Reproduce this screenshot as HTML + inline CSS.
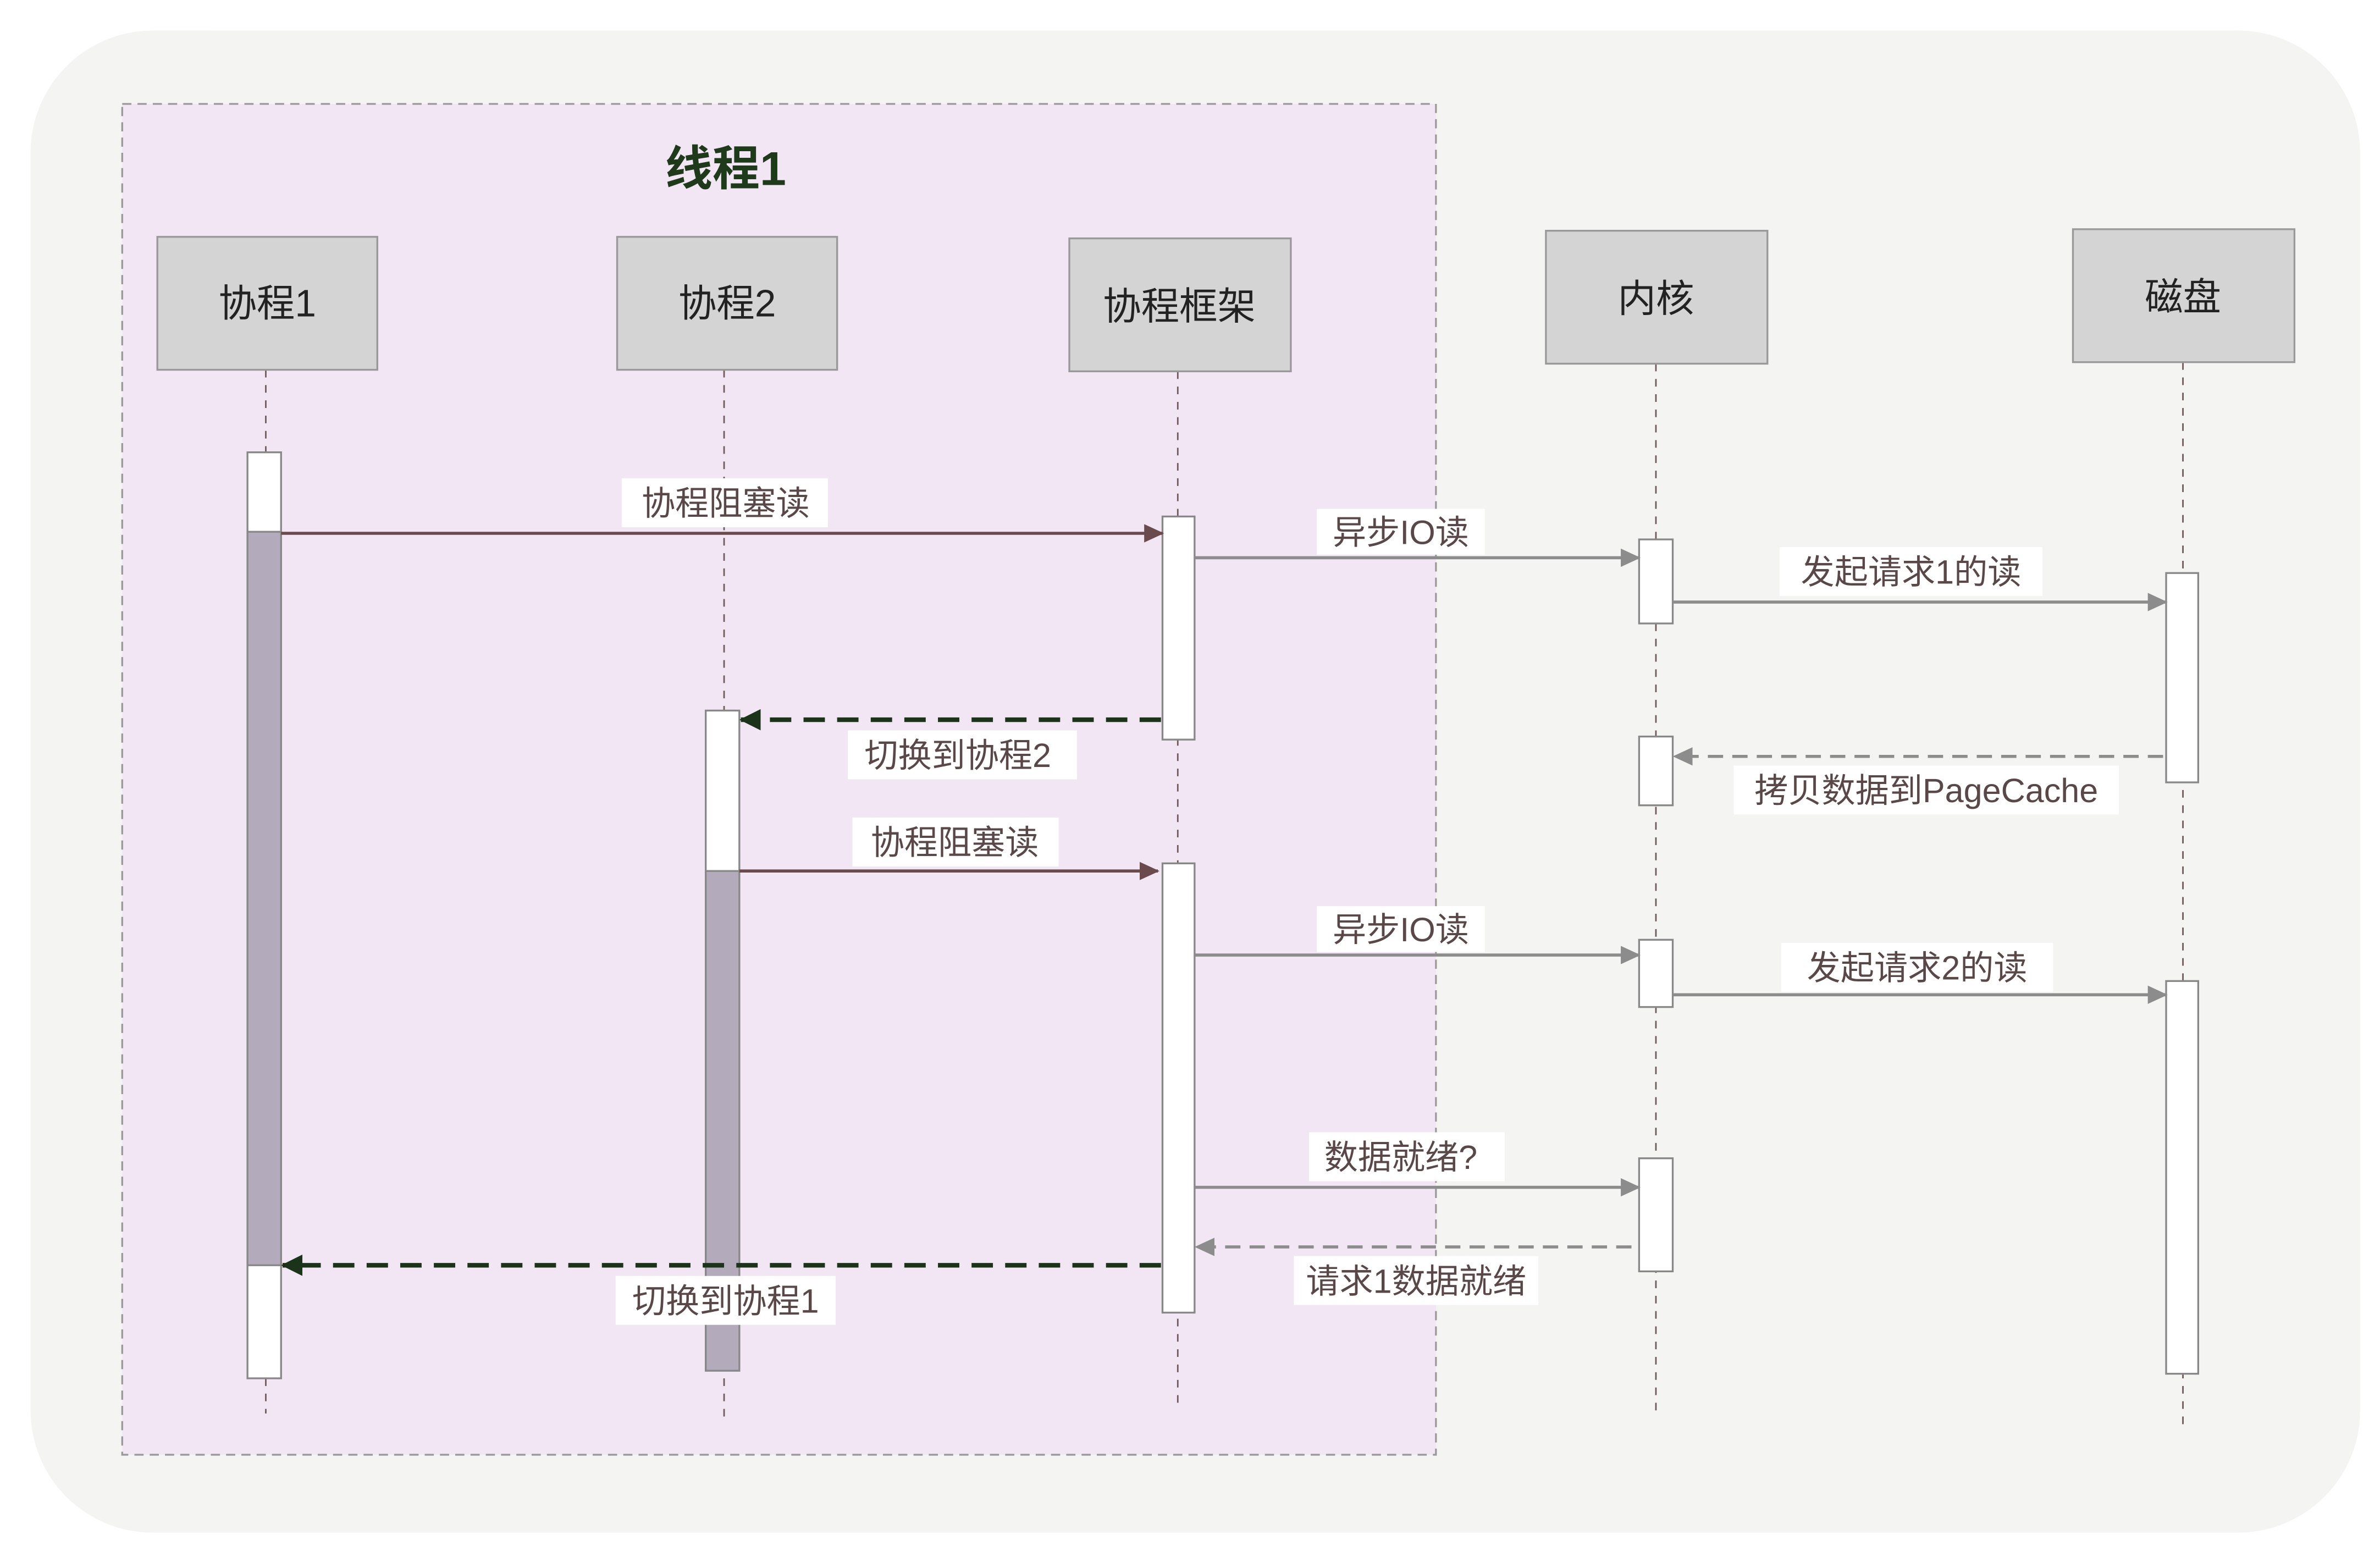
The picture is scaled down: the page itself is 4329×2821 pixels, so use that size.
<!DOCTYPE html>
<html><head><meta charset="utf-8"><style>
html,body{margin:0;padding:0;background:#fff;}
svg{display:block;}
text{font-family:"Liberation Sans","Noto Sans CJK SC",sans-serif;}
</style></head><body>
<svg width="4329" height="2821" viewBox="0 0 1558 1015" preserveAspectRatio="none" xmlns="http://www.w3.org/2000/svg">
<defs>
<marker id="ab" markerWidth="13" markerHeight="12" refX="12" refY="6" orient="auto" markerUnits="userSpaceOnUse"><path d="M0,0 L13,6 L0,12 z" fill="#6b4a4e"/></marker>
<marker id="ag" markerWidth="13" markerHeight="12" refX="12" refY="6" orient="auto" markerUnits="userSpaceOnUse"><path d="M0,0 L13,6 L0,12 z" fill="#8c8c8c"/></marker>
<marker id="ad" markerWidth="14" markerHeight="14" refX="13" refY="7" orient="auto" markerUnits="userSpaceOnUse"><path d="M0,0 L14,7 L0,14 z" fill="#1b3318"/></marker>
</defs>
<rect x="20" y="20" width="1525" height="983" rx="80" fill="#f4f4f3"/>
<rect x="80" y="68" width="860" height="884" fill="#f2e6f4" stroke="#9a9a9a" stroke-dasharray="6,4" stroke-width="1.2"/>
<text x="475" y="121" font-size="31" font-weight="bold" fill="#1e3a1a" text-anchor="middle">线程1</text>

<g stroke="#6f5a5a" stroke-dasharray="5,5" stroke-width="1">
<line x1="174" y1="242" x2="174" y2="925"/>
<line x1="474" y1="242" x2="474" y2="930"/>
<line x1="771" y1="243" x2="771" y2="920"/>
<line x1="1084" y1="238" x2="1084" y2="925"/>
<line x1="1429" y1="237" x2="1429" y2="935"/>
</g>

<g fill="#d4d4d4" stroke="#999" stroke-width="1.2">
<rect x="103" y="155" width="144" height="87"/>
<rect x="404" y="155" width="144" height="87"/>
<rect x="700" y="156" width="145" height="87"/>
<rect x="1012" y="151" width="145" height="87"/>
<rect x="1357" y="150" width="145" height="87"/>
</g>
<g font-size="25" fill="#222" text-anchor="middle">
<text x="175" y="207">协程1</text>
<text x="476" y="207">协程2</text>
<text x="772" y="209">协程框架</text>
<text x="1084" y="204">内核</text>
<text x="1429" y="203">磁盘</text>
</g>

<g stroke="#888" stroke-width="1.2">
<rect x="162" y="296" width="22" height="606" fill="#fff"/>
<rect x="162" y="348" width="22" height="480" fill="#b3abbc"/>
<rect x="462" y="465" width="22" height="432" fill="#fff"/>
<rect x="462" y="570" width="22" height="327" fill="#b3abbc"/>
<rect x="761" y="338" width="21" height="146" fill="#fff"/>
<rect x="761" y="565" width="21" height="294" fill="#fff"/>
<rect x="1073" y="353" width="22" height="55" fill="#fff"/>
<rect x="1073" y="482" width="22" height="45" fill="#fff"/>
<rect x="1073" y="615" width="22" height="44" fill="#fff"/>
<rect x="1073" y="758" width="22" height="74" fill="#fff"/>
<rect x="1418" y="375" width="21" height="137" fill="#fff"/>
<rect x="1418" y="642" width="21" height="257" fill="#fff"/>
</g>

<g stroke-width="2" fill="none">
<line x1="184" y1="349" x2="761" y2="349" stroke="#6b4a4e" marker-end="url(#ab)"/>
<line x1="484" y1="570" x2="758" y2="570" stroke="#6b4a4e" marker-end="url(#ab)"/>
<line x1="782" y1="365" x2="1073" y2="365" stroke="#8c8c8c" marker-end="url(#ag)"/>
<line x1="1095" y1="394" x2="1418" y2="394" stroke="#8c8c8c" marker-end="url(#ag)"/>
<line x1="782" y1="625" x2="1073" y2="625" stroke="#8c8c8c" marker-end="url(#ag)"/>
<line x1="1095" y1="651" x2="1418" y2="651" stroke="#8c8c8c" marker-end="url(#ag)"/>
<line x1="782" y1="777" x2="1073" y2="777" stroke="#8c8c8c" marker-end="url(#ag)"/>
<line x1="1416" y1="495" x2="1096" y2="495" stroke="#8c8c8c" stroke-dasharray="10,6" marker-end="url(#ag)"/>
<line x1="1068" y1="816" x2="783" y2="816" stroke="#8c8c8c" stroke-dasharray="10,6" marker-end="url(#ag)"/>
<line x1="760" y1="471" x2="485" y2="471" stroke="#1b3318" stroke-width="3" stroke-dasharray="14,8" marker-end="url(#ad)"/>
<line x1="760" y1="828" x2="185" y2="828" stroke="#1b3318" stroke-width="3" stroke-dasharray="14,8" marker-end="url(#ad)"/>
</g>

<g font-size="22" fill="#5a4848" text-anchor="middle">
<rect x="407" y="313" width="135" height="32" fill="#fff"/><text x="475" y="337">协程阻塞读</text>
<rect x="862" y="333" width="110" height="30" fill="#fff"/><text x="917" y="356">异步IO读</text>
<rect x="1165" y="358" width="172" height="32" fill="#fff"/><text x="1251" y="382">发起请求1的读</text>
<rect x="555" y="478" width="150" height="32" fill="#fff"/><text x="627" y="502">切换到协程2</text>
<rect x="1135" y="501" width="252" height="32" fill="#fff"/><text x="1261" y="525">拷贝数据到PageCache</text>
<rect x="558" y="535" width="135" height="32" fill="#fff"/><text x="625" y="559">协程阻塞读</text>
<rect x="862" y="593" width="110" height="30" fill="#fff"/><text x="917" y="616">异步IO读</text>
<rect x="1166" y="617" width="178" height="32" fill="#fff"/><text x="1255" y="641">发起请求2的读</text>
<rect x="857" y="741" width="128" height="32" fill="#fff"/><text x="917" y="765">数据就绪?</text>
<rect x="847" y="822" width="160" height="32" fill="#fff"/><text x="927" y="846">请求1数据就绪</text>
<rect x="403" y="835" width="144" height="32" fill="#fff"/><text x="475" y="859">切换到协程1</text>
</g>
</svg>
</body></html>
